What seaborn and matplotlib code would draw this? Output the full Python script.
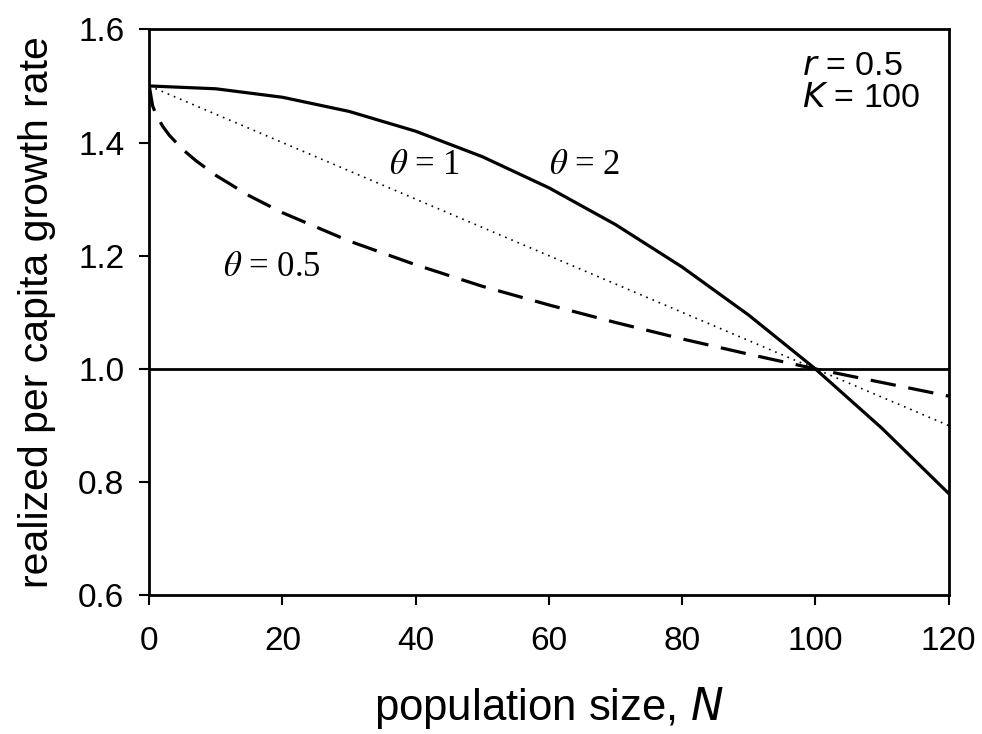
import numpy as np
import pandas as pd
import matplotlib
matplotlib.use("Agg")
import matplotlib.pyplot as plt
import seaborn as sns

# values
n_grid = [0, 10, 20, 30, 40, 50, 60, 70, 80, 90, 100, 110, 120]
theta2 = [1.5, 1.495, 1.48, 1.455, 1.42, 1.375, 1.32, 1.255, 1.18, 1.095, 1.0, 0.895, 0.78]
theta1 = [1.5, 1.45, 1.40, 1.35, 1.30, 1.25, 1.20, 1.15, 1.10, 1.05, 1.00, 0.95, 0.90]

n_half = [0, 0.5, 1, 2, 3, 5, 7, 10, 15, 20, 30, 40, 50, 60, 70, 80, 90, 100, 110, 120]
theta05 = [1.5, 1.465, 1.45, 1.429, 1.413, 1.388, 1.368, 1.342, 1.306, 1.276, 1.226,
           1.184, 1.146, 1.113, 1.082, 1.053, 1.026, 1.0, 0.976, 0.952]

df2 = pd.DataFrame({"N": n_grid, "lam": theta2})
df1 = pd.DataFrame({"N": n_grid, "lam": theta1})
df05 = pd.DataFrame({"N": n_half, "lam": theta05})

sns.set_style("ticks")
plt.rcParams["font.family"] = ["Liberation Sans", "DejaVu Sans"]
plt.rcParams["text.color"] = "black"
plt.rcParams["axes.labelcolor"] = "black"

fig, ax = plt.subplots(figsize=(9.82, 7.34), dpi=100)
fig.subplots_adjust(left=0.152, right=0.966, top=0.960, bottom=0.189)

sns.lineplot(data=df2, x="N", y="lam", ax=ax, color="black", lw=2.3)
sns.lineplot(data=df1, x="N", y="lam", ax=ax, color="black", lw=1.2, linestyle=(0, (1, 3)))
sns.lineplot(data=df05, x="N", y="lam", ax=ax, color="black", lw=2.3, linestyle=(0, (8, 4)))
ax.axhline(1.0, color="black", lw=2.0)

ax.set_xlim(0, 120)
ax.set_ylim(0.6, 1.6)
ax.set_xticks(range(0, 121, 20))
ax.set_yticks([0.6, 0.8, 1.0, 1.2, 1.4, 1.6])
ax.set_yticklabels(["0.6", "0.8", "1.0", "1.2", "1.4", "1.6"])
ax.tick_params(axis="both", direction="out", length=7, width=1.5, labelsize=24, colors="black")
ax.tick_params(axis="x", pad=15)
ax.tick_params(axis="y", pad=11)
for s in ax.spines.values():
    s.set_linewidth(2.0)
    s.set_color("black")

ax.set_xlabel("population size, $\\mathit{N}$", fontsize=31.5, labelpad=20)
ax.set_ylabel("realized per capita growth rate", fontsize=29.5, labelpad=16)

serif = {"family": "Liberation Serif", "size": 25}
ax.text(36, 1.36, "$\\theta$ = 1", fontdict=serif, ha="left", va="center",
        math_fontfamily="stix")
ax.text(60, 1.36, "$\\theta$ = 2", fontdict=serif, ha="left", va="center",
        math_fontfamily="stix")
ax.text(11, 1.18, "$\\theta$ = 0.5", fontdict=serif, ha="left", va="center",
        math_fontfamily="stix")

ax.text(98.0, 1.535, "$\\mathit{r}$ = 0.5", fontsize=24.5, ha="left", va="center")
ax.text(98.0, 1.478, "$\\mathit{K}$ = 100", fontsize=24.5, ha="left", va="center")

fig.savefig("out.png", dpi=100, facecolor="white")
